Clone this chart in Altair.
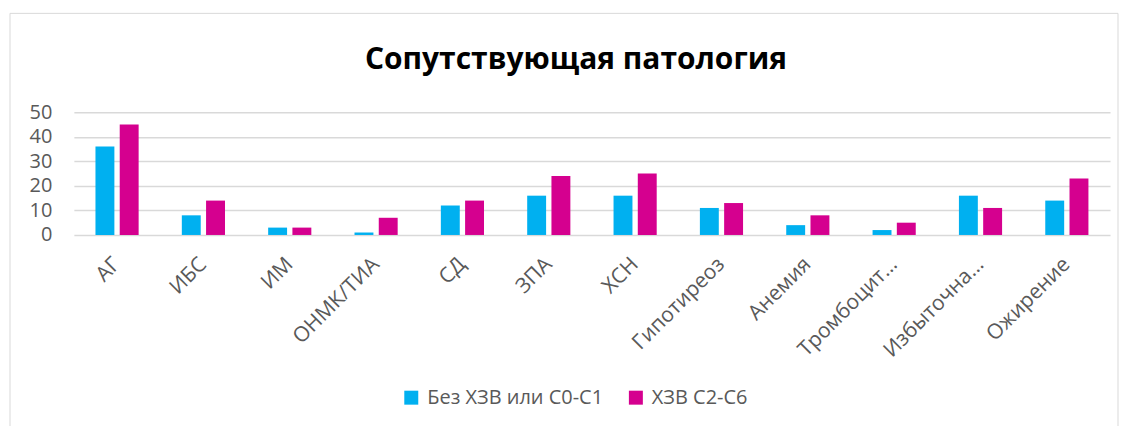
import altair as alt
import pandas as pd

categories = ["АГ", "ИБС", "ИМ", "ОНМК/ТИА", "СД", "ЗПА", "ХСН", "Гипотиреоз",
              "Анемия", "Тромбоцит…", "Избыточна…", "Ожирение"]
series_names = ["Без ХЗВ или С0-С1", "ХЗВ С2-С6"]
values_a = [36, 8, 3, 1, 12, 16, 16, 11, 4, 2, 16, 14]
values_b = [45, 14, 3, 7, 14, 24, 25, 13, 8, 5, 11, 23]
colors = ["#00B0F0", "#D5008F"]
y_ticks = [0, 10, 20, 30, 40, 50]

rows = []
for c, a, b in zip(categories, values_a, values_b):
    rows.append({"cat": c, "series": series_names[0], "value": a})
    rows.append({"cat": c, "series": series_names[1], "value": b})
df = pd.DataFrame(rows)

FONT = "Open Sans"
GREY = "#595959"

bars = alt.Chart(df).mark_bar().encode(
    x=alt.X("cat:N", sort=categories, title=None,
            scale=alt.Scale(paddingInner=0.5, paddingOuter=0.25),
            axis=alt.Axis(labelAngle=-45, labelAlign="right", labelBaseline="middle",
                          labelFontSize=21, labelColor=GREY, labelFont=FONT,
                          labelPadding=26, labelOffset=0, ticks=False,
                          domain=False, grid=False, labelLimit=300)),
    xOffset=alt.XOffset("series:N", sort=series_names,
                        scale=alt.Scale(paddingInner=0.22)),
    y=alt.Y("value:Q", title=None,
            scale=alt.Scale(domain=[0, 50], nice=False),
            axis=alt.Axis(values=y_ticks, labelFontSize=20, labelColor=GREY,
                          labelFont=FONT, labelPadding=22, ticks=False,
                          domain=False, gridColor="#D9D9D9", gridWidth=1.5)),
    color=alt.Color("series:N", sort=series_names,
                    scale=alt.Scale(domain=series_names, range=colors),
                    legend=alt.Legend(title=None, orient="none", legendX=328,
                                      legendY=276, direction="horizontal",
                                      symbolType="square", symbolSize=196,
                                      symbolStrokeWidth=0, labelFontSize=20,
                                      labelFont=FONT, labelColor=GREY,
                                      labelLimit=400,
                                      columnPadding=22, labelOffset=6)),
)

border = alt.Chart(pd.DataFrame({"k": [0]})).mark_rect(
    fill=None, stroke="#D9D9D9", strokeWidth=1
).encode(x=alt.value(-64), x2=alt.value(1046), y=alt.value(-99), y2=alt.value(330))

chart = alt.layer(border, bars).properties(
    width=1038, height=123,
    title=alt.TitleParams("Сопутствующая патология", fontSize=30, font=FONT,
                          fontWeight="bold", color="#000000", anchor="middle",
                          dx=-16, offset=-62),
    autosize=alt.AutoSizeParams(type="none"),
    padding={"left": 66, "top": 104, "right": 10, "bottom": 191},
).configure_view(stroke=None)

chart.save("out.html", embed_options={"renderer": "svg", "actions": False})
